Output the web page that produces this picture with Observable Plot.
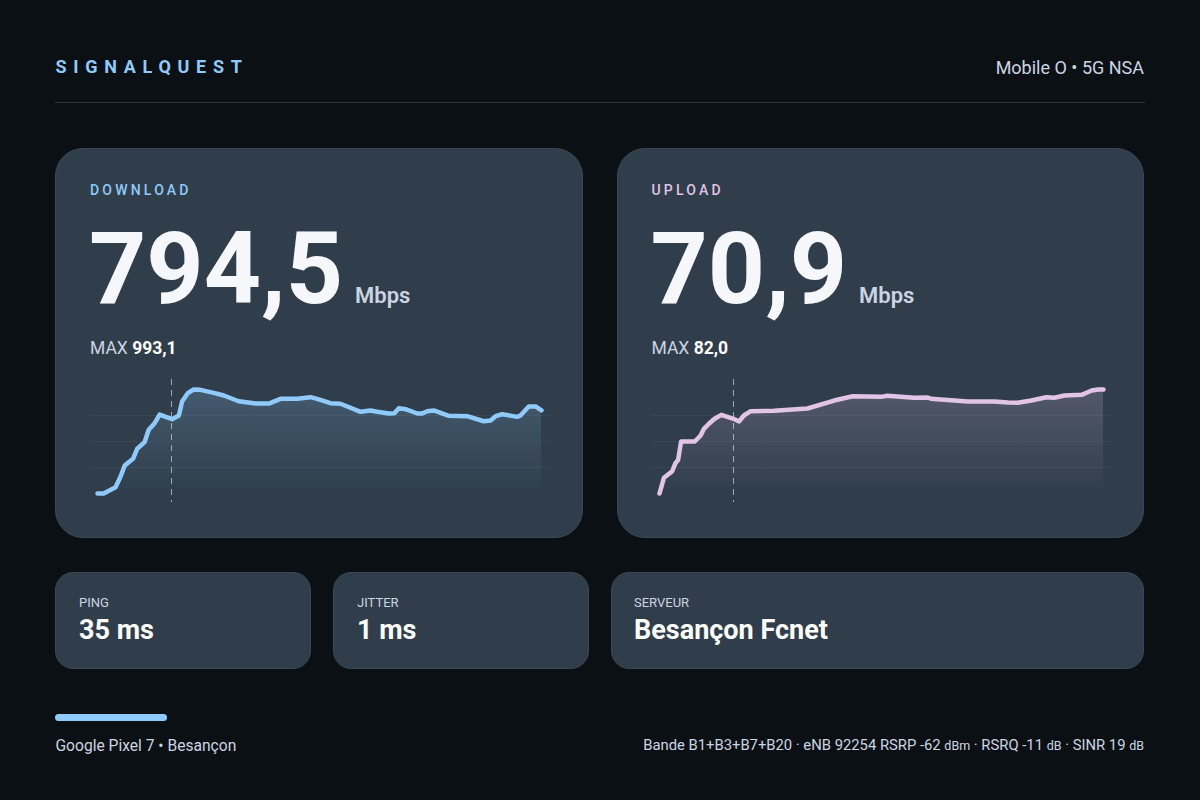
<!DOCTYPE html>
<html><head><meta charset="utf-8">
<script src="https://cdn.jsdelivr.net/npm/d3@7"></script>
<script src="https://cdn.jsdelivr.net/npm/@observablehq/plot@0.6"></script>
<style>
html,body{margin:0;padding:0;background:#0b1015;}
body{width:1200px;height:800px;position:relative;overflow:hidden;font-family:Roboto,sans-serif;color:#fff;}
.a{position:absolute;white-space:nowrap;line-height:1;}
.card{position:absolute;box-sizing:border-box;background:#303e4c;border:1px solid #3a4856;}
.chart{position:absolute;}
.chart svg{display:block;background:transparent;}
</style></head><body>
<div id="root"></div>
<script>
const dlTime=[0,.21,.61,.78,.92,1.2,1.34,1.59,1.73,1.93,2.1,2.52,2.75,2.86,3.05,3.25,3.48,3.93,4.27,4.77,5.34,5.79,6.18,6.75,7.2,7.42,7.87,8.21,8.89,9.22,9.45,9.84,10.03,10.18,10.41,10.8,10.97,11.14,11.36,11.87,12.49,13.05,13.28,13.45,13.67,14.18,14.29,14.57,14.8,15];
const dlMbps=[0,0,60,162,267,331,427,490,608,671,754,710,745,881,958,993.1,990,961,936,881,859,859,904,904,920,904,862,857,780,793,780,764,767,815,805,764,764,786,793,742,738,690,697,738,757,732,745,831,831,794.5];
const ulTime=[0,.15,.43,.54,.63,.73,1.19,1.39,1.5,1.67,1.86,2.09,2.5,2.69,2.85,3.08,3.87,5,5.9,6.53,7.48,7.7,8.6,9.06,9.17,10.41,11.32,11.77,12.1,12.56,13.07,13.34,13.68,14.26,14.6,14.82,15];
const ulMbps=[0,12.4,17.6,23.9,26.6,41,41,45.7,51,55,58.9,62,58.9,56.8,61.5,64.9,65.2,67,73.3,76.7,76.2,77,75.5,75.7,74.7,72.5,72.5,71.7,71.5,73.3,75.9,75.5,77.3,77.8,81.2,82,82];
const dlMax=993.1, ulMax=82.0;
const dlGrid=[248.3,496.6,744.8], ulGrid=[20.5,41,61.5];
const marker=[2.5];
const blue="#90caf9", pink="#e1c4e6";
const soft="#cbd5e1";

const root=document.getElementById("root");
function div(cls,css,html){const d=document.createElement("div");d.className=cls;d.style.cssText=css;if(html!=null)d.innerHTML=html;root.appendChild(d);return d;}
function text(x,y,size,color,weight,str,extra=""){return div("a",`left:${x}px;top:${y}px;font-size:${size}px;color:${color};font-weight:${weight};${extra}`,str);}

text(55.5,58,18,blue,700,"SIGNALQUEST","letter-spacing:6.7px;");
text(0,59,18,soft,400,"Mobile O • 5G NSA","left:auto;right:56px;");
div("","position:absolute;left:55px;top:101.5px;width:1090px;height:1px;background:#2b343d;");

div("card","left:55px;top:148px;width:528px;height:390px;border-radius:28px;");
div("card","left:617px;top:148px;width:527px;height:390px;border-radius:28px;");
div("card","left:55px;top:572px;width:256px;height:97px;border-radius:18px;");
div("card","left:333px;top:572px;width:256px;height:97px;border-radius:18px;");
div("card","left:611px;top:572px;width:533px;height:97px;border-radius:18px;");

function panel(left,label,color,val,max,unitX,time,mbps,domainMax,grid,id){
  text(left,183,14,color,500,label,"letter-spacing:3.2px;");
  text(left-1,219,100,"#f5f7fa",700,val);
  text(unitX,285,22,soft,600,"Mbps");
  text(left,340,17.5,soft,400,`MAX <b style="color:#fff;font-weight:700">${max}</b>`);
  const rows=time.map((t,i)=>({t,v:mbps[i]}));
  const defs=()=>{
    const ns="http://www.w3.org/2000/svg";
    const d=document.createElementNS(ns,"defs");
    const g=document.createElementNS(ns,"linearGradient");
    g.setAttribute("id",id);g.setAttribute("x1","0");g.setAttribute("x2","0");g.setAttribute("y1","0");g.setAttribute("y2","1");
    [["0%",.2],["100%",0]].forEach(([o,a])=>{const s=document.createElementNS(ns,"stop");s.setAttribute("offset",o);s.setAttribute("stop-color",color);s.setAttribute("stop-opacity",a);g.appendChild(s);});
    d.appendChild(g);return d;
  };
  const svg=Plot.plot({
    width:459,height:130,marginLeft:7,marginRight:8,marginTop:14,marginBottom:12,
    x:{domain:[0,15],axis:null},
    y:{domain:[0,domainMax],axis:null},
    style:{background:"transparent",overflow:"visible"},
    marks:[
      defs,
      Plot.ruleY(grid,{stroke:"#ffffff",strokeOpacity:.05,strokeWidth:1,insetLeft:-7,insetRight:-8}),
      Plot.areaY(rows,{x:"t",y:"v",fill:`url(#${id})`}),
      Plot.ruleX(marker,{stroke:"#cfd8dc",strokeOpacity:.7,strokeWidth:1,strokeDasharray:"6 5",insetTop:-10,insetBottom:-9}),
      Plot.lineY(rows,{x:"t",y:"v",stroke:color,strokeWidth:4.5,strokeLinejoin:"round",strokeLinecap:"round"})
    ]
  });
  const c=div("chart",`left:${left}px;top:375px;width:459px;height:130px;`);
  c.appendChild(svg);
}
panel(90,"DOWNLOAD",blue,"794,5","993,1",355,dlTime,dlMbps,dlMax,dlGrid,"gd");
panel(651.5,"UPLOAD",pink,"70,9","82,0",859,ulTime,ulMbps,ulMax,ulGrid,"gu");

function stat(x,lab,val){
  text(x,596,13,soft,400,lab);
  text(x,617,27,"#ffffff",700,val);
}
stat(79,"PING","35 ms");stat(357,"JITTER","1 ms");stat(634,"SERVEUR","Besançon Fcnet");

div("","position:absolute;left:55px;top:714px;width:112px;height:7px;border-radius:3.5px;background:"+blue+";");
text(55.5,739,15.6,soft,400,"Google Pixel 7 • Besançon");
const small='<span style="font-size:12.5px">';
text(0,737.5,14.8,soft,400,`Bande B1+B3+B7+B20 · eNB 92254 RSRP -62 ${small}dBm</span> · RSRQ -11 ${small}dB</span> · SINR 19 ${small}dB</span>`,"left:auto;right:56px;");
</script>
</body></html>
